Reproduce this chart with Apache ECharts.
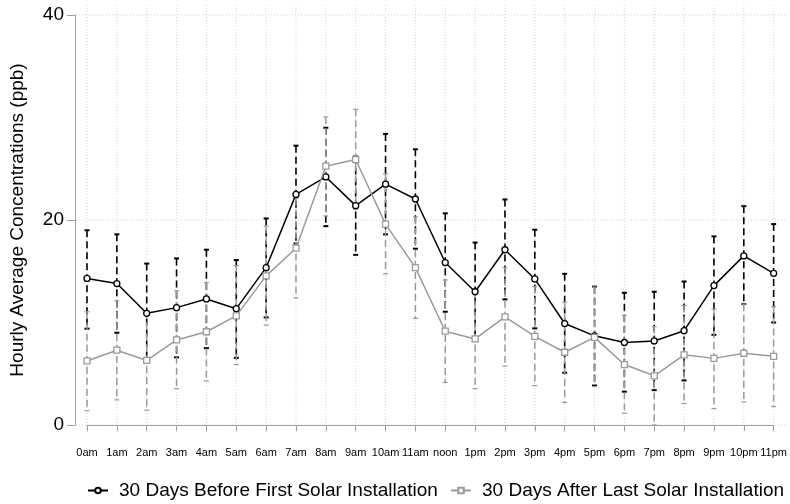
<!DOCTYPE html>
<html>
<head>
<meta charset="utf-8">
<script src="https://cdn.jsdelivr.net/npm/echarts@6/dist/echarts.min.js"></script>
<style>
  html, body { margin: 0; padding: 0; background: #fff; }
  #chart { width: 790px; height: 504px; }
</style>
</head>
<body>
<div id="chart"></div>
<script>
// Hour-of-day categories
var hours = ['0am','1am','2am','3am','4am','5am','6am','7am','8am','9am','10am','11am',
             'noon','1pm','2pm','3pm','4pm','5pm','6pm','7pm','8pm','9pm','10pm','11pm'];

// 30 days before the first solar installation: mean and interval bounds (ppb)
var beforeMean = [14.3, 13.8, 10.9, 11.45, 12.3, 11.35, 15.35, 22.5, 24.2, 21.4, 23.5, 22.05,
                  15.85, 13.0, 17.1, 14.25, 9.9, 8.7, 8.05, 8.2, 9.2, 13.6, 16.5, 14.8];
var beforeLow  = [9.4, 9.0, 6.05, 6.6, 7.5, 6.55, 10.5, 17.7, 19.4, 16.6, 18.6, 17.2,
                  11.05, 8.2, 12.25, 9.43, 5.1, 3.85, 3.25, 3.4, 4.35, 8.8, 11.8, 10.0];
var beforeHigh = [19.0, 18.6, 15.75, 16.25, 17.1, 16.1, 20.15, 27.25, 29.0, 26.2, 28.4, 26.9,
                  20.65, 17.8, 22.0, 19.05, 14.75, 13.5, 12.9, 13.0, 14.0, 18.4, 21.35, 19.6];

// 30 days after the last solar installation: mean and interval bounds (ppb)
var afterMean = [6.25, 7.3, 6.3, 8.3, 9.1, 10.65, 14.55, 17.25, 25.25, 25.9, 19.6, 15.35,
                 9.15, 8.4, 10.55, 8.65, 7.1, 8.55, 5.9, 4.8, 6.85, 6.5, 7.0, 6.7];
var afterLow  = [1.4, 2.45, 1.45, 3.55, 4.3, 5.9, 9.75, 12.4, 20.4, 21.05, 14.75, 10.4,
                 4.15, 3.55, 5.75, 3.85, 2.2, 3.75, 1.15, 0.0, 2.1, 1.6, 2.25, 1.8];
var afterHigh = [11.05, 12.1, 11.1, 13.1, 13.9, 15.55, 19.4, 22.1, 30.05, 30.8, 24.5, 20.3,
                 14.15, 13.2, 15.35, 13.5, 12.0, 13.45, 10.7, 9.6, 11.65, 11.3, 11.8, 11.55];

// Value-axis ticks
var yTicks = [0, 20, 40];

var seriesNames = ['30 Days Before First Solar Installation', '30 Days After Last Solar Installation'];

var FONT = '"Liberation Sans", Arial, Helvetica, sans-serif';
var AXIS_GRAY = '#a0a0a0';
var GRID_GRAY = '#d4d4d4';

function boundsData(low, high) {
  return low.map(function (v, i) { return [i, v, high[i]]; });
}

// Vertical interval line (dashed) with solid caps at both ends
function errorBar(color, width, capHalf, capWidth, dash) {
  return function (params, api) {
    var i = api.value(0);
    var lo = api.coord([i, api.value(1)]);
    var hi = api.coord([i, api.value(2)]);
    return {
      type: 'group',
      children: [
        { type: 'line', shape: { x1: hi[0], y1: hi[1], x2: lo[0], y2: lo[1] },
          style: { stroke: color, lineWidth: width, lineDash: dash } },
        { type: 'line', shape: { x1: hi[0] - capHalf, y1: hi[1], x2: hi[0] + capHalf, y2: hi[1] },
          style: { stroke: color, lineWidth: capWidth } },
        { type: 'line', shape: { x1: lo[0] - capHalf, y1: lo[1], x2: lo[0] + capHalf, y2: lo[1] },
          style: { stroke: color, lineWidth: capWidth } }
      ]
    };
  };
}

// Dotted background grid: one vertical per hour, one horizontal per y tick,
// reaching a little past the data region on every side
function gridVertical(params, api) {
  var i = api.value(0);
  var top = api.coord([i, yTicks[yTicks.length - 1]]);
  var bottom = api.coord([i, yTicks[0]]);
  return { type: 'line', shape: { x1: top[0], y1: top[1] - 10, x2: bottom[0], y2: bottom[1] + 9 },
           style: { stroke: GRID_GRAY, lineWidth: 1, lineDash: [1, 2] } };
}
function gridHorizontal(params, api) {
  var v = api.value(1);
  var left = api.coord([0, v]);
  var right = api.coord([hours.length - 1, v]);
  return { type: 'line', shape: { x1: left[0] - 11, y1: left[1], x2: right[0] + 12, y2: right[1] },
           style: { stroke: GRID_GRAY, lineWidth: 1, lineDash: [1, 2] } };
}

function legendFor(name, left) {
  return {
    data: [name],
    left: left,
    top: 481,
    padding: 0,
    itemWidth: 20,
    itemHeight: 7,
    textStyle: { fontFamily: FONT, fontSize: 19, color: '#000', padding: [0, 0, 0, 6] }
  };
}

var chart = echarts.init(document.getElementById('chart'), null, { renderer: 'canvas' });

chart.setOption({
  animation: false,
  backgroundColor: '#ffffff',
  textStyle: { fontFamily: FONT },
  grid: { left: 83, right: 14, top: 15, bottom: 79 },
  legend: [legendFor(seriesNames[0], 87), legendFor(seriesNames[1], 450)],
  xAxis: {
    type: 'category',
    data: hours,
    boundaryGap: false,
    offset: 11,
    axisLine: { lineStyle: { color: AXIS_GRAY, width: 1 } },
    axisTick: { alignWithLabel: true, length: 6, lineStyle: { color: AXIS_GRAY } },
    axisLabel: { fontSize: 11, color: '#000', margin: 11, interval: 0, fontFamily: FONT },
    splitLine: { show: false }
  },
  yAxis: {
    type: 'value',
    min: 0,
    max: 40,
    interval: 20,
    offset: 12,
    name: 'Hourly Average Concentrations (ppb)',
    nameLocation: 'middle',
    nameGap: 48,
    nameTextStyle: { fontSize: 19, color: '#000', fontFamily: FONT },
    axisLine: { show: true, lineStyle: { color: AXIS_GRAY, width: 1 } },
    axisTick: { show: true, length: 8, lineStyle: { color: AXIS_GRAY } },
    axisLabel: { fontSize: 19, color: '#000', margin: 11, fontFamily: FONT },
    splitLine: { show: false }
  },
  series: [
    {
      name: 'grid-v', type: 'custom', z: 0, silent: true, clip: false,
      data: hours.map(function (h, i) { return [i, 0]; }),
      renderItem: gridVertical
    },
    {
      name: 'grid-h', type: 'custom', z: 0, silent: true, clip: false,
      data: yTicks.map(function (t) { return [0, t]; }),
      renderItem: gridHorizontal
    },
    {
      name: 'before-ci', type: 'custom', z: 2, silent: true, clip: false,
      data: boundsData(beforeLow, beforeHigh),
      encode: { x: 0, y: [1, 2] },
      renderItem: errorBar('#000000', 1.6, 2.5, 2, [7, 4])
    },
    {
      name: 'after-ci', type: 'custom', z: 3, silent: true, clip: false,
      data: boundsData(afterLow, afterHigh),
      encode: { x: 0, y: [1, 2] },
      renderItem: errorBar('#9a9a9a', 1.5, 2.5, 1.2, [7, 4])
    },
    {
      name: seriesNames[0],
      type: 'line', z: 4,
      data: beforeMean,
      symbol: 'circle',
      symbolSize: 6,
      lineStyle: { color: '#000000', width: 1.5 },
      itemStyle: { color: '#ffffff', borderColor: '#000000', borderWidth: 1.3 }
    },
    {
      name: seriesNames[1],
      type: 'line', z: 5,
      data: afterMean,
      symbol: 'rect',
      symbolSize: 6,
      lineStyle: { color: '#9a9a9a', width: 1.5 },
      itemStyle: { color: '#ffffff', borderColor: '#9a9a9a', borderWidth: 1.3 }
    }
  ]
});
</script>
</body>
</html>
